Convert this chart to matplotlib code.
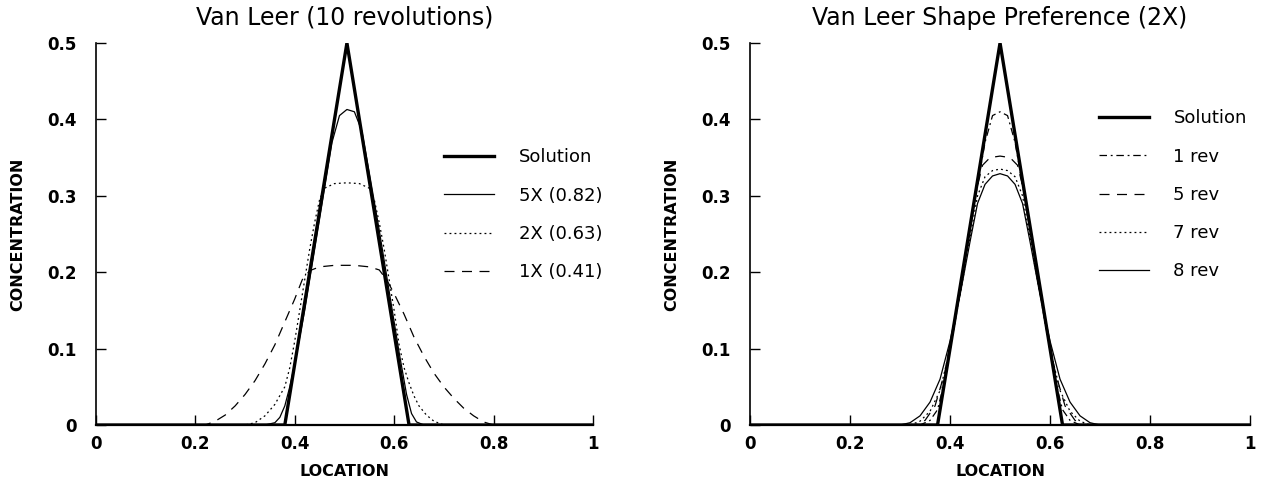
#!/usr/bin/env python
# coding: utf-8
"""
Van Leer advection test: concentration profiles after 10 revolutions
and shape preference over revolutions (2X grid).
"""

import matplotlib
matplotlib.use("Agg")
import matplotlib.pyplot as plt
import numpy as np

# ---- data ----
# left panel
sol_left_x = [0.0, 0.38, 0.505, 0.63, 1.0]
sol_left_y = [0.0, 0.0, 0.5, 0.0, 0.0]

x5x = [0.0, 0.34, 0.36, 0.37, 0.38, 0.39, 0.40, 0.42, 0.44, 0.46, 0.475, 0.49,
       0.505, 0.52, 0.535, 0.55, 0.57, 0.59, 0.61, 0.625, 0.635, 0.645, 0.66, 1.0]
y5x = [0.0, 0.0, 0.003, 0.01, 0.025, 0.05, 0.08, 0.15, 0.23, 0.31, 0.37, 0.405,
       0.413, 0.41, 0.385, 0.33, 0.255, 0.175, 0.095, 0.04, 0.015, 0.004, 0.0, 0.0]

x2x = [0.0, 0.30, 0.32, 0.34, 0.36, 0.38, 0.39, 0.40, 0.41, 0.42, 0.43, 0.44, 0.45,
       0.46, 0.48, 0.505, 0.53, 0.55, 0.56, 0.57, 0.58, 0.59, 0.60, 0.61, 0.62,
       0.63, 0.64, 0.65, 0.665, 0.68, 0.70, 1.0]
y2x = [0.0, 0.0, 0.003, 0.012, 0.027, 0.05, 0.075, 0.11, 0.15, 0.19, 0.23, 0.265,
       0.295, 0.31, 0.316, 0.317, 0.316, 0.31, 0.295, 0.265, 0.23, 0.19, 0.15,
       0.105, 0.075, 0.055, 0.038, 0.025, 0.013, 0.005, 0.0, 0.0]

x1x = [0.0, 0.22, 0.24, 0.26, 0.28, 0.30, 0.32, 0.34, 0.36, 0.38, 0.40, 0.415,
       0.43, 0.45, 0.48, 0.52, 0.55, 0.57, 0.585, 0.60, 0.62, 0.64, 0.66, 0.68,
       0.70, 0.72, 0.74, 0.76, 0.78, 0.80, 1.0]
y1x = [0.0, 0.0, 0.005, 0.013, 0.025, 0.04, 0.058, 0.08, 0.105, 0.135, 0.165,
       0.19, 0.202, 0.207, 0.209, 0.209, 0.207, 0.203, 0.19, 0.172, 0.145, 0.115,
       0.09, 0.068, 0.05, 0.035, 0.022, 0.012, 0.004, 0.0, 0.0]

# right panel
sol_right_x = [0.0, 0.375, 0.5, 0.625, 1.0]
sol_right_y = [0.0, 0.0, 0.5, 0.0, 0.0]

x_rev1 = [0.0, 0.34, 0.36, 0.375, 0.39, 0.41, 0.43, 0.45, 0.47, 0.485, 0.50,
          0.515, 0.53, 0.55, 0.57, 0.59, 0.61, 0.625, 0.64, 0.66, 1.0]
y_rev1 = [0.0, 0.0, 0.006, 0.02, 0.06, 0.135, 0.215, 0.295, 0.37, 0.405, 0.41,
          0.405, 0.37, 0.295, 0.215, 0.135, 0.06, 0.02, 0.006, 0.0, 0.0]

x_rev5 = [0.0, 0.33, 0.35, 0.37, 0.39, 0.41, 0.43, 0.45, 0.465, 0.48, 0.50,
          0.52, 0.535, 0.55, 0.57, 0.59, 0.61, 0.63, 0.65, 0.67, 1.0]
y_rev5 = [0.0, 0.0, 0.006, 0.025, 0.07, 0.14, 0.22, 0.30, 0.34, 0.35, 0.352,
          0.35, 0.34, 0.30, 0.22, 0.14, 0.07, 0.025, 0.006, 0.0, 0.0]

x_rev7 = [0.0, 0.32, 0.34, 0.36, 0.38, 0.40, 0.42, 0.44, 0.455, 0.47, 0.485,
          0.50, 0.515, 0.53, 0.545, 0.56, 0.58, 0.60, 0.62, 0.64, 0.66, 0.68, 1.0]
y_rev7 = [0.0, 0.0, 0.005, 0.018, 0.045, 0.10, 0.17, 0.245, 0.30, 0.325, 0.333,
          0.335, 0.333, 0.325, 0.30, 0.245, 0.17, 0.10, 0.045, 0.018, 0.005, 0.0, 0.0]

x_rev8 = [0.0, 0.30, 0.32, 0.34, 0.36, 0.38, 0.40, 0.42, 0.44, 0.455, 0.47,
          0.485, 0.50, 0.515, 0.53, 0.545, 0.56, 0.58, 0.60, 0.62, 0.64, 0.66,
          0.68, 0.70, 1.0]
y_rev8 = [0.0, 0.0, 0.003, 0.012, 0.03, 0.06, 0.11, 0.17, 0.24, 0.29, 0.315,
          0.326, 0.329, 0.326, 0.315, 0.29, 0.24, 0.17, 0.11, 0.06, 0.03, 0.012,
          0.003, 0.0, 0.0]

xticks = [0, 0.2, 0.4, 0.6, 0.8, 1.0]
xticklabels = ["0", "0.2", "0.4", "0.6", "0.8", "1"]
yticks = [0, 0.1, 0.2, 0.3, 0.4, 0.5]
yticklabels = ["0", "0.1", "0.2", "0.3", "0.4", "0.5"]

plt.rcParams["font.family"] = ["DejaVu Sans"]

THICK = 2.4
THIN = 0.9
LEG = dict(loc="upper left", frameon=False, fontsize=13, handlelength=2.8,
           handletextpad=1.35, labelspacing=1.12, borderpad=0, borderaxespad=0)


def style_axes(ax, title):
    ax.set_xlim(0, 1)
    ax.set_ylim(0, 0.5)
    ax.spines["top"].set_visible(False)
    ax.spines["right"].set_visible(False)
    ax.spines["left"].set_linewidth(1.2)
    ax.spines["bottom"].set_linewidth(1.6)
    ax.set_xticks(xticks, xticklabels)
    ax.set_yticks(yticks, yticklabels)
    ax.tick_params(axis="x", direction="in", length=7, width=1, pad=7, labelsize=12)
    ax.tick_params(axis="y", direction="in", length=7, width=1, pad=14, labelsize=12)
    for lab in ax.get_xticklabels() + ax.get_yticklabels():
        lab.set_fontweight("bold")
    ax.set_xlabel("LOCATION", fontsize=11.5, fontweight="bold", labelpad=8)
    ax.set_ylabel("CONCENTRATION", fontsize=11.5, fontweight="bold", labelpad=16)
    ax.set_title(title, fontsize=17, pad=13)


fig = plt.figure(figsize=(12.61, 4.86), dpi=100)
ax1 = fig.add_axes([0.0761, 0.1255, 0.3941, 0.786])
ax2 = fig.add_axes([0.5948, 0.1255, 0.3965, 0.786])

# left panel
ax1.plot(sol_left_x, sol_left_y, color="black", lw=THICK, label="Solution")
ax1.plot(x5x, y5x, color="black", lw=THIN, label="5X (0.82)")
ax1.plot(x2x, y2x, color="black", lw=THIN, ls=(0, (1.5, 2.5)), label="2X (0.63)")
ax1.plot(x1x, y1x, color="black", lw=THIN, ls=(0, (8, 6)), label="1X (0.41)")
style_axes(ax1, "Van Leer (10 revolutions)")
ax1.legend(bbox_to_anchor=(0.70, 0.724), **LEG)

# right panel
ax2.plot(sol_right_x, sol_right_y, color="black", lw=THICK, label="Solution")
ax2.plot(x_rev1, y_rev1, color="black", lw=THIN, ls=(0, (6, 3, 1.5, 3)), label="1 rev")
ax2.plot(x_rev5, y_rev5, color="black", lw=THIN, ls=(0, (8, 6)), label="5 rev")
ax2.plot(x_rev7, y_rev7, color="black", lw=THIN, ls=(0, (1.5, 2.5)), label="7 rev")
ax2.plot(x_rev8, y_rev8, color="black", lw=THIN, label="8 rev")
style_axes(ax2, "Van Leer Shape Preference (2X)")
ax2.legend(bbox_to_anchor=(0.697, 0.826), **LEG)

fig.savefig("out.png", dpi=100)
